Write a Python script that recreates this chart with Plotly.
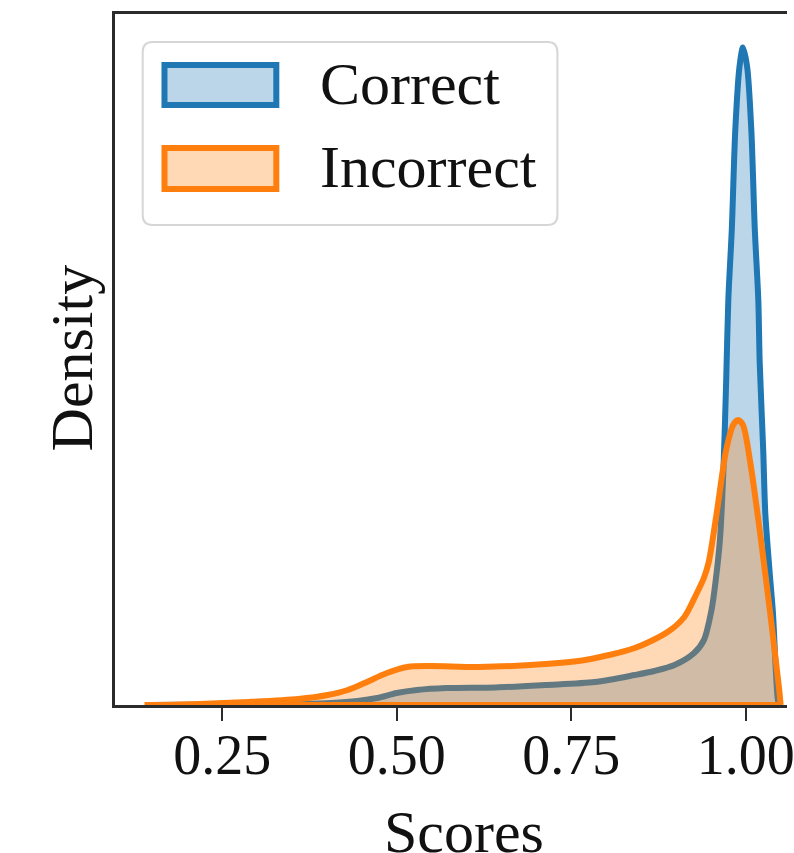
import plotly.graph_objects as go

# ---- data (density in arbitrary units) ----
correct_x = [0.143, 0.288, 0.359, 0.406, 0.444, 0.472, 0.500, 0.529, 0.571, 0.642,
             0.713, 0.784, 0.841, 0.869, 0.898, 0.926, 0.940, 0.951, 0.957, 0.963,
             0.968, 0.972, 0.975, 0.980, 0.985, 0.991, 0.996, 1.002, 1.008, 1.013,
             1.018, 1.020, 1.025, 1.028, 1.034, 1.039, 1.043, 1.046, 1.048]
correct_y = [0.0, 0.01, 0.02, 0.036, 0.073, 0.127, 0.218, 0.273, 0.309, 0.32,
             0.364, 0.418, 0.545, 0.618, 0.727, 0.945, 1.18, 1.73, 2.27, 3.0,
             4.27, 5.91, 7.36, 8.64, 10.45, 11.6, 11.95, 11.6, 10.45, 8.64,
             7.36, 6.22, 4.64, 3.49, 2.45, 1.67, 0.64, 0.09, 0.0]

incorrect_x = [0.139, 0.217, 0.288, 0.359, 0.401, 0.430, 0.454, 0.486, 0.515, 0.547,
               0.618, 0.713, 0.770, 0.841, 0.888, 0.912, 0.930, 0.940, 0.947, 0.958,
               0.972, 0.982, 0.989, 0.996, 1.006, 1.020, 1.035, 1.043, 1.048, 1.050]
incorrect_y = [0.0, 0.02, 0.055, 0.109, 0.182, 0.273, 0.40, 0.582, 0.691, 0.709,
               0.691, 0.745, 0.818, 1.036, 1.327, 1.6, 2.036, 2.309, 2.60, 3.455,
               4.636, 5.09, 5.18, 5.09, 4.45, 3.18, 1.673, 0.818, 0.273, 0.0]

series_names = ["Correct", "Incorrect"]
tick_vals = [0.25, 0.50, 0.75, 1.00]
tick_text = ["0.25", "0.50", "0.75", "1.00"]
x_label = "Scores"
y_label = "Density"

BLUE = "#1f77b4"
ORANGE = "#ff7f0e"
BLUE_FILL = "rgba(31,119,180,0.3)"
ORANGE_FILL = "rgba(255,127,14,0.3)"
FONT = "Liberation Serif"
LW = 6

W, H = 794, 853
L, R, T, B = 115, 0, 14, 148
PW, PH = W - L - R, H - T - B


def px(x):
    return (x - L) / PW


def py(y):
    return (H - B - y) / PH


fig = go.Figure()
for xs, ys, col, fillc, name in [(correct_x, correct_y, BLUE, BLUE_FILL, series_names[0]),
                                  (incorrect_x, incorrect_y, ORANGE, ORANGE_FILL, series_names[1])]:
    fig.add_trace(go.Scatter(x=xs, y=ys, mode="lines", name=name,
                             line=dict(color=col, width=LW, shape="spline", smoothing=0.8),
                             fill="tozeroy", fillcolor=fillc, showlegend=False))
    # bottom edge of the filled polygon
    fig.add_trace(go.Scatter(x=[xs[0], xs[-1]], y=[0, 0], mode="lines",
                             line=dict(color=col, width=LW), showlegend=False, hoverinfo="skip"))

SPINE = "#2b2b2b"
fig.update_xaxes(range=[0.0964, 1.0591], showgrid=False, zeroline=False,
                 showline=True, linecolor=SPINE, linewidth=2.5, mirror=True,
                 ticks="outside", ticklen=13, tickwidth=2, tickcolor=SPINE,
                 tickvals=tick_vals, ticktext=tick_text, ticklabeloverflow="allow",
                 ticklabelstandoff=-14,
                 tickfont=dict(family=FONT, size=56, color="#111111"))
fig.update_yaxes(range=[0, 12.56], showgrid=False, zeroline=False,
                 showline=True, linecolor=SPINE, linewidth=2.5, mirror=False,
                 showticklabels=False, ticks="")

shapes = []
# legend frame (rounded rectangle)
x0, x1, y0, y1 = 143, 562, 42, 225
r = 10
path = (f"M {px(x0 + r)} {py(y0)} L {px(x1 - r)} {py(y0)} Q {px(x1)} {py(y0)} {px(x1)} {py(y0 + r)} "
        f"L {px(x1)} {py(y1 - r)} Q {px(x1)} {py(y1)} {px(x1 - r)} {py(y1)} "
        f"L {px(x0 + r)} {py(y1)} Q {px(x0)} {py(y1)} {px(x0)} {py(y1 - r)} "
        f"L {px(x0)} {py(y0 + r)} Q {px(x0)} {py(y0)} {px(x0 + r)} {py(y0)} Z")
shapes.append(dict(type="path", xref="paper", yref="paper", path=path,
                   line=dict(color="#d6d6d6", width=2), fillcolor="rgba(255,255,255,0.8)",
                   layer="above"))
for (ya, yb), col, fillc in [((65, 105), BLUE, BLUE_FILL), ((148, 189), ORANGE, ORANGE_FILL)]:
    shapes.append(dict(type="rect", xref="paper", yref="paper",
                       x0=px(165), x1=px(278), y0=py(ya), y1=py(yb),
                       line=dict(color=col, width=LW), fillcolor=fillc, layer="above"))

annotations = []
for name, yc in zip(series_names, [86, 169]):
    annotations.append(dict(xref="paper", yref="paper", x=px(320), y=py(yc - 2),
                            xanchor="left", yanchor="middle", showarrow=False, text=name,
                            font=dict(family=FONT, size=60, color="#111111")))
annotations.append(dict(xref="paper", yref="paper", x=px(468), y=py(832),
                        xanchor="center", yanchor="middle", showarrow=False, text=x_label,
                        font=dict(family=FONT, size=60, color="#111111")))
annotations.append(dict(xref="paper", yref="paper", x=px(72), y=py(358),
                        xanchor="center", yanchor="middle", showarrow=False, text=y_label,
                        textangle=-90, font=dict(family=FONT, size=60, color="#111111")))

fig.update_layout(width=W, height=H, margin=dict(l=L, r=R, t=T, b=B, pad=0),
                  plot_bgcolor="white", paper_bgcolor="white",
                  shapes=shapes, annotations=annotations, showlegend=False,
                  font=dict(family=FONT))

fig.write_html("out.html", config={"displayModeBar": False},
               post_script="document.body.style.margin='0px';document.body.style.overflow='hidden';")
